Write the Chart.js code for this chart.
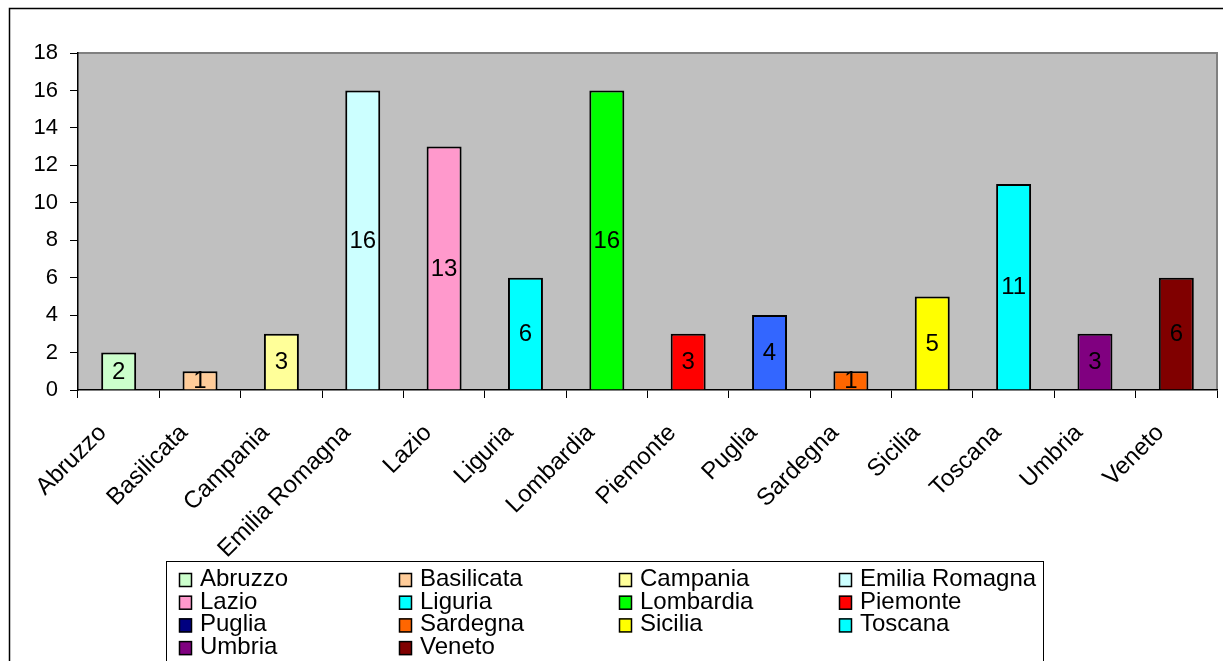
<!DOCTYPE html>
<html>
<head>
<meta charset="utf-8">
<script src="https://cdn.jsdelivr.net/npm/chart.js@4/dist/chart.umd.min.js"></script>
<style>
  body { margin: 0; background: #fff; }
  #regioni { display: block; }
</style>
</head>
<body>
<canvas id="regioni" width="1223" height="661"></canvas>
<script>
// dati
const regioni = ['Abruzzo', 'Basilicata', 'Campania', 'Emilia Romagna', 'Lazio', 'Liguria', 'Lombardia',
                 'Piemonte', 'Puglia', 'Sardegna', 'Sicilia', 'Toscana', 'Umbria', 'Veneto'];
const valori = [2, 1, 3, 16, 13, 6, 16, 3, 4, 1, 5, 11, 3, 6];
const yTicks = [0, 2, 4, 6, 8, 10, 12, 14, 16, 18];

const coloriBarre = ['#CCFFCC', '#FFCC99', '#FFFF99', '#CCFFFF', '#FF99CC', '#00FFFF', '#00FF00',
                     '#FF0000', '#3366FF', '#FF6600', '#FFFF00', '#00FFFF', '#800080', '#800000'];
// nella legenda Puglia ha un colore diverso (blu scuro)
const coloriLegenda = ['#CCFFCC', '#FFCC99', '#FFFF99', '#CCFFFF', '#FF99CC', '#00FFFF', '#00FF00',
                       '#FF0000', '#000080', '#FF6600', '#FFFF00', '#00FFFF', '#800080', '#800000'];

const FONT = "'Liberation Sans', Arial, sans-serif";

// cornice esterna + sfondo grigio dell'area del grafico
const sfondo = {
    id: 'sfondo',
    beforeDraw(chart) {
        const ctx = chart.ctx;
        const a = chart.chartArea;
        ctx.save();
        ctx.strokeStyle = '#000';
        ctx.lineWidth = 1.5;
        ctx.strokeRect(9.5, 8.5, 1300, 700);
        ctx.fillStyle = '#C0C0C0';
        ctx.fillRect(a.left, a.top, a.right - a.left, a.bottom - a.top);
        ctx.strokeStyle = '#808080';
        ctx.lineWidth = 2;
        ctx.beginPath();
        ctx.moveTo(a.left, a.top);
        ctx.lineTo(a.right, a.top);
        ctx.lineTo(a.right, a.bottom);
        ctx.stroke();
        ctx.restore();
    }
};

// valori al centro delle barre
const etichette = {
    id: 'etichette',
    afterDatasetsDraw(chart) {
        const ctx = chart.ctx;
        const meta = chart.getDatasetMeta(0);
        ctx.save();
        ctx.font = '24px ' + FONT;
        ctx.fillStyle = '#000';
        ctx.textAlign = 'center';
        ctx.textBaseline = 'middle';
        meta.data.forEach((bar, i) => {
            ctx.fillText(String(valori[i]), bar.x, (bar.y + bar.base) / 2 + 1);
        });
        ctx.restore();
    }
};

// legenda in riquadro, 4 colonne
const legendaBox = {
    id: 'legendaBox',
    afterDraw(chart) {
        const ctx = chart.ctx;
        const colonne = [179, 399, 619, 839];
        const top = 561;
        const riga = 22.7;
        ctx.save();
        ctx.fillStyle = '#fff';
        ctx.fillRect(166, top, 877, 110);
        ctx.strokeStyle = '#000';
        ctx.lineWidth = 1;
        ctx.strokeRect(166.5, top + 0.5, 877, 110);
        ctx.font = '24px ' + FONT;
        ctx.textBaseline = 'alphabetic';
        ctx.textAlign = 'left';
        regioni.forEach((nome, i) => {
            const x = colonne[i % 4];
            const base = 586 + Math.floor(i / 4) * riga;
            ctx.fillStyle = coloriLegenda[i];
            ctx.fillRect(x, base - 13, 13, 14);
            ctx.strokeStyle = '#000';
            ctx.lineWidth = 1.5;
            ctx.strokeRect(x + 0.5, base - 12.5, 12, 13);
            ctx.fillStyle = '#000';
            ctx.fillText(nome, x + 21, base);
        });
        ctx.restore();
    }
};

new Chart(document.getElementById('regioni'), {
    type: 'bar',
    data: {
        labels: regioni,
        datasets: [{
            data: valori,
            backgroundColor: coloriBarre,
            borderColor: '#000',
            borderWidth: 2,
            barPercentage: 0.43,
            categoryPercentage: 1
        }]
    },
    options: {
        responsive: false,
        animation: false,
        events: [],
        layout: { padding: { top: 53, right: 6, left: 0, bottom: 0 } },
        plugins: {
            legend: { display: false },
            tooltip: { enabled: false }
        },
        scales: {
            x: {
                afterFit(scale) { scale.height = 271; },
                grid: { drawOnChartArea: false, tickLength: 8, color: '#000', offset: true },
                border: { color: '#000', width: 1.5 },
                ticks: {
                    autoSkip: false,
                    minRotation: 45,
                    maxRotation: 45,
                    color: '#000',
                    padding: 21,
                    labelOffset: -16,
                    font: { family: FONT, size: 24 }
                }
            },
            y: {
                min: 0,
                max: 18,
                afterFit(scale) { scale.width = 78; },
                afterBuildTicks(scale) { scale.ticks = yTicks.map(v => ({ value: v })); },
                grid: { drawOnChartArea: false, tickLength: 8, color: '#000' },
                border: { color: '#000', width: 1.5 },
                ticks: {
                    color: '#000',
                    padding: 12,
                    font: { family: FONT, size: 22 }
                }
            }
        }
    },
    plugins: [sfondo, etichette, legendaBox]
});
</script>
</body>
</html>
